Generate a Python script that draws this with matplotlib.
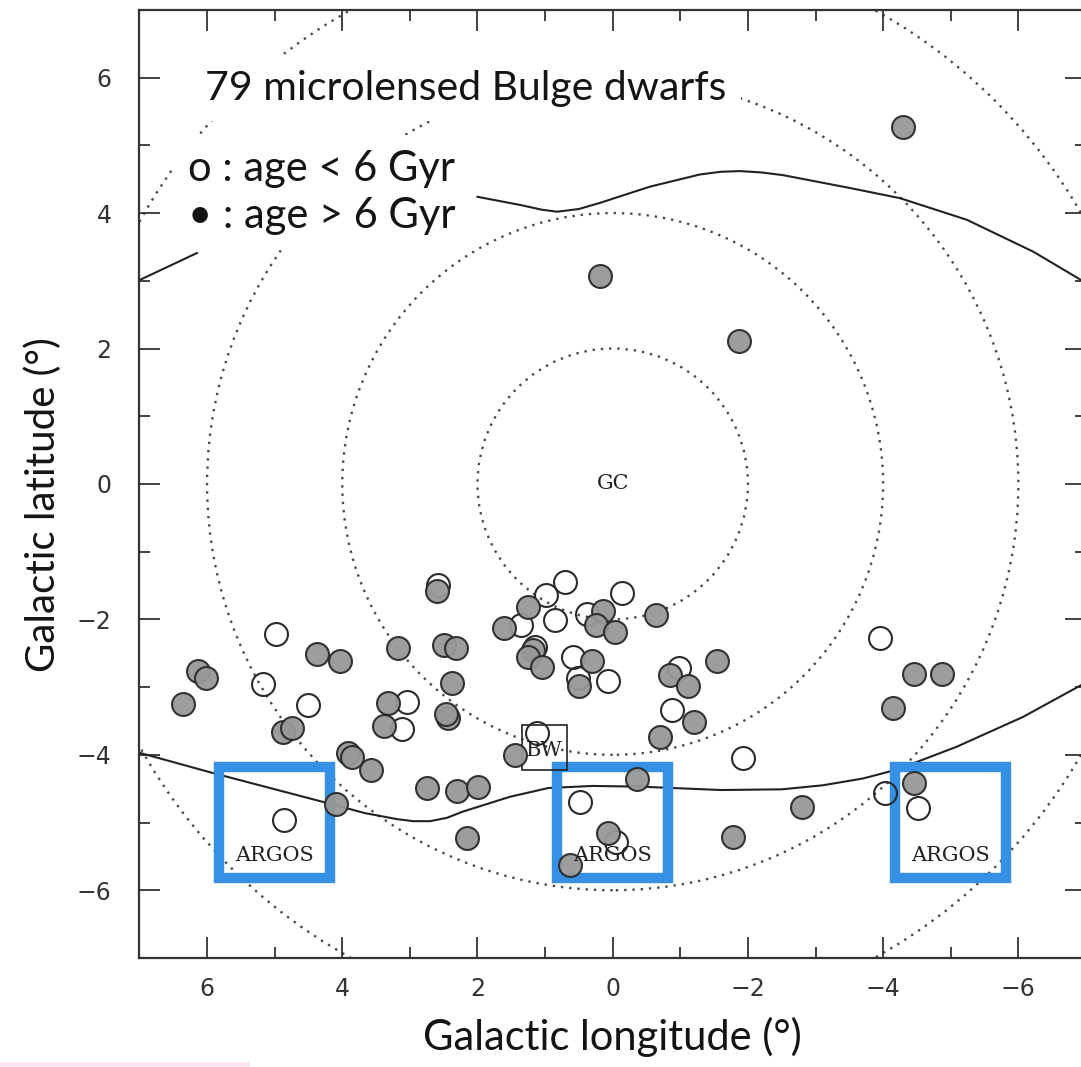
import matplotlib
matplotlib.use("Agg")
import matplotlib.pyplot as plt
from matplotlib.patches import Circle, Rectangle
import numpy as np

# microlensed bulge dwarfs, galactic (l, b) in degrees
young_l = [4.98, 5.17, 4.51, 4.86, 2.58, 3.05, 3.12, 1.12, 1.35, 0.98,
           0.71, 0.85, 0.38, -0.14, 1.15, 0.59, 0.51, 0.07, -0.98, -0.87,
           -1.93, 0.48, -0.05, -3.95, -4.03, -4.51]
young_b = [-2.22, -2.95, -3.26, -4.96, -1.49, -3.22, -3.62, -3.68, -2.08, -1.64,
           -1.45, -2.01, -1.92, -1.61, -2.41, -2.55, -2.87, -2.91, -2.72, -3.34,
           -4.04, -4.70, -5.29, -2.28, -4.57, -4.78]

old_l = [-4.29, 0.19, -1.87, 6.13, 6.02, 6.36, 4.38, 4.04, 4.87, 4.75,
         3.92, 3.85, 3.57, 4.09, 3.17, 3.32, 3.39, 2.60, 2.50, 2.32,
         2.38, 2.43, 2.47, 1.45, 2.75, 2.31, 1.99, 2.16, 1.61, 1.25,
         1.18, 1.25, 1.05, 0.14, 0.24, -0.03, -0.64, 0.31, 0.50, -0.85,
         -1.12, -1.54, -1.20, -0.70, -0.36, 0.07, 0.63, -1.78, -2.80, -4.45,
         -4.87, -4.15, -4.45]
old_b = [5.27, 3.07, 2.11, -2.76, -2.87, -3.25, -2.51, -2.61, -3.66, -3.61,
         -3.98, -4.03, -4.22, -4.73, -2.43, -3.24, -3.58, -1.58, -2.38, -2.43,
         -2.94, -3.46, -3.40, -4.00, -4.49, -4.53, -4.48, -5.23, -2.13, -1.81,
         -2.45, -2.56, -2.70, -1.87, -2.08, -2.18, -1.93, -2.62, -2.98, -2.82,
         -2.98, -2.62, -3.51, -3.73, -4.36, -5.16, -5.63, -5.21, -4.77, -2.80,
         -2.80, -3.31, -4.41]

# bulge outline (upper and lower contour); the upper one is broken under the key
top_l = [7.0, 6.15, np.nan, 2.0, 1.37, 1.05, 0.82, 0.50, 0.19, -0.55, -1.29,
         -1.60, -1.88, -2.20, -2.52, -3.51, -4.25, -5.24, -6.22, -6.93, -7.0]
top_b = [3.01, 3.41, np.nan, 4.24, 4.12, 4.05, 4.02, 4.06, 4.15, 4.39, 4.57,
         4.61, 4.62, 4.60, 4.56, 4.37, 4.22, 3.90, 3.43, 3.01, 2.95]
bot_l = [7.0, 5.91, 5.07, 4.23, 3.67, 3.19, 2.95, 2.70, 2.45, 2.22,
         1.52, 0.95, 0.30, -0.40, -1.60, -2.50, -3.11, -3.70, -4.20, -5.09,
         -6.07, -6.93, -7.0]
bot_b = [-3.97, -4.27, -4.49, -4.71, -4.86, -4.95, -4.98, -4.98, -4.93, -4.84,
         -4.62, -4.49, -4.46, -4.47, -4.52, -4.51, -4.45, -4.35, -4.22, -3.88,
         -3.44, -2.97, -2.93]

# rings of constant angular distance from the Galactic centre
ring_radii = [2, 4, 6, 8]

# ARGOS fields (centre l, b) and half width
argos_l = [5.0, 0.0, -5.0]
argos_b = [-5.0, -5.0, -5.0]
argos_half = 0.82

# Baade's window box
bw_l, bw_b = 1.01, -3.89
bw_half = 0.33

fig = plt.figure(figsize=(10.81, 10.67), dpi=100)
ax = fig.add_axes([0.1290, 0.1022, 0.8756, 0.8885])

for r in ring_radii:
    ax.add_patch(Circle((0, 0), r, fill=False, ls=(0, (1, 2.5)), lw=1.7,
                        color='#4a4a4a', zorder=1))

ax.plot(top_l, top_b, color='#222222', lw=1.5, zorder=2)
ax.plot(bot_l, bot_b, color='#222222', lw=1.5, zorder=2)

for cl, cb in zip(argos_l, argos_b):
    ax.add_patch(Rectangle((cl - argos_half, cb - argos_half), 2 * argos_half,
                           2 * argos_half, fill=False, ec='#3590e6', lw=7.5,
                           joinstyle='miter', zorder=3))
    ax.text(cl, cb - 0.48, 'ARGOS', family='DejaVu Serif', fontsize=15,
            color='#222222', ha='center', va='center', zorder=6)

ax.add_patch(Rectangle((bw_l - bw_half, bw_b - bw_half), 2 * bw_half, 2 * bw_half,
                       fill=False, ec='#222222', lw=1.2, zorder=3))
ax.text(bw_l, bw_b - 0.04, 'BW', family='DejaVu Serif', fontsize=15,
        color='#222222', ha='center', va='center', zorder=6)
ax.text(0, 0, 'GC', family='DejaVu Serif', fontsize=15, color='#222222',
        ha='center', va='center', zorder=6)

ax.plot(young_l, young_b, 'o', ms=16.5, mfc='none', mec='#2a2a2a', mew=1.5, zorder=4)
ax.plot(old_l, old_b, 'o', ms=16.5, mfc='#989898', mec='#2a2a2a', mew=1.5,
        alpha=0.95, zorder=5)

ax.text(6.03, 5.67, '79 microlensed Bulge dwarfs', family='Lato', fontsize=29.5,
        color='#141414', ha='left', va='baseline', zorder=7,
        bbox=dict(boxstyle='square,pad=0.35', fc='white', ec='none'))
ax.text(6.28, 3.78, 'o : age < 6 Gyr\n\u2022 : age > 6 Gyr', family='Lato',
        fontsize=30, color='#141414', ha='left', va='baseline', linespacing=1.3,
        zorder=7, bbox=dict(boxstyle='square,pad=0.35', fc='white', ec='none'))

ax.set_xlim(7, -7)
ax.set_ylim(-7, 7)
ax.set_xticks(np.arange(-6, 7, 2))
ax.set_yticks(np.arange(-6, 7, 2))
ax.set_xticks(np.arange(-7, 8, 1), minor=True)
ax.set_yticks(np.arange(-7, 8, 1), minor=True)
ax.tick_params(which='both', direction='in', top=True, right=True,
               colors='#333333', width=1.3)
ax.tick_params(which='major', length=15, labelsize=17)
ax.tick_params(which='minor', length=8)
ax.tick_params(axis='x', pad=14)
ax.tick_params(axis='y', pad=20)
for s in ax.spines.values():
    s.set_color('#333333')
    s.set_linewidth(1.6)

ax.set_xlabel('Galactic longitude (°)', family='Lato', fontsize=30,
              color='#141414', labelpad=11)
ax.set_ylabel('Galactic latitude (°)', family='Lato', fontsize=29,
              color='#141414', labelpad=11)
ax.yaxis.label.set_y(0.478)

fig.patches.append(Rectangle((0, 0), 250 / 1081, 5 / 1067, transform=fig.transFigure,
                             fc='#fde4f2', ec='none'))

fig.savefig('out.png', dpi=100)
